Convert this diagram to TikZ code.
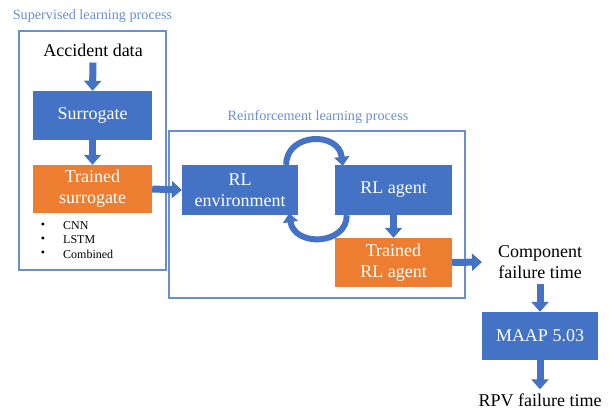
\documentclass[tikz,border=0pt]{standalone}
\usepackage{fontspec}
\setmainfont{Liberation Serif}
\usetikzlibrary{arrows.meta}
\definecolor{boxblue}{HTML}{4472C4}
\definecolor{boxorange}{HTML}{ED7D31}
\definecolor{frameblue}{HTML}{6A8ED6}

\tikzset{
  procbox/.style={fill=boxblue, text=white, minimum width=117pt, minimum height=49pt,
    align=center, inner sep=0pt, font=\fontsize{18}{21}\selectfont},
  trainedbox/.style={procbox, fill=boxorange},
  plaintext/.style={font=\fontsize{18}{21}\selectfont, align=center, inner sep=0pt},
  smalltext/.style={font=\fontsize{12}{14}\selectfont, inner sep=0pt},
  groupframe/.style={draw=frameblue, line width=1.2pt},
  grouptitle/.style={text=frameblue, font=\fontsize{14.2}{16}\selectfont, inner sep=0pt},
  flowarrow/.style={draw=boxblue, line width=7pt, -{Triangle[width=17pt,length=10pt]}},
  looparrow/.style={draw=boxblue, line width=6pt, -{Triangle[width=15pt,length=9pt]}},
}

\begin{document}
\begin{tikzpicture}[x=1pt, y=-1pt]
  \useasboundingbox (0,0) rectangle (610,409);

  % supervised learning group
  \draw[groupframe] (19,31) rectangle (166,270);
  \node[grouptitle] (suptitle) at (92.5,16) {Supervised learning process};
  \node[plaintext] (acc) at (93,50) {Accident data};
  \node[procbox, minimum width=119pt] (sur) at (92.5,115.5) {Surrogate};
  \node[trainedbox, minimum width=119pt, minimum height=48pt] (tsur) at (92.5,189)
    {Trained\\surrogate};
  \node[smalltext] (b1) at (43,226) {•};
  \node[smalltext] (b2) at (43,240) {•};
  \node[smalltext] (b3) at (43,254) {•};
  \node[smalltext, anchor=west] (m1) at (63,226) {CNN};
  \node[smalltext, anchor=west] (m2) at (63,240) {LSTM};
  \node[smalltext, anchor=west] (m3) at (63,254) {Combined};

  % reinforcement learning group
  \draw[groupframe] (169,131) rectangle (465,298);
  \node[grouptitle] (rltitle) at (318,117) {Reinforcement learning process};
  \node[procbox, minimum width=116pt, minimum height=50pt] (env) at (240,190)
    {RL\\environment};
  \node[procbox, minimum height=50pt] (agent) at (393.5,190) {RL agent};
  \node[trainedbox] (tagent) at (393.5,262.5) {Trained\\RL agent};

  % outputs
  \node[plaintext] (comp) at (540,262) {Component\\failure time};
  \coordinate (compin) at (482,262);
  \node[procbox, minimum width=116pt, minimum height=48pt] (maap) at (540,336) {MAAP 5.03};
  \node[plaintext] (rpv) at (540,400) {RPV failure time};

  % flow arrows
  \draw[flowarrow] ([yshift=-6]acc.south) -- (sur.north);
  \draw[flowarrow] (sur.south) -- (tsur.north);
  \draw[flowarrow] (tsur.east) -- (env.west);
  \draw[flowarrow] (agent.south) -- (tagent.north);
  \draw[flowarrow] (tagent.east) -- (compin);
  \draw[flowarrow] ([yshift=-5]comp.south) -- (maap.north);
  \draw[flowarrow] (maap.south) -- ([yshift=4]rpv.north);

  % training loop between environment and agent
  \draw[looparrow] ([xshift=-12]env.north east)
    .. controls ([xshift=-12,yshift=32]env.north east)
    and ([xshift=4,yshift=34]agent.north west) .. ([xshift=8,yshift=-1]agent.north west);
  \draw[looparrow] ([xshift=12]agent.south west)
    .. controls ([xshift=12,yshift=-30]agent.south west)
    and ([xshift=-4,yshift=-32]env.south east) .. ([xshift=-9,yshift=2]env.south east);
\end{tikzpicture}
\end{document}
